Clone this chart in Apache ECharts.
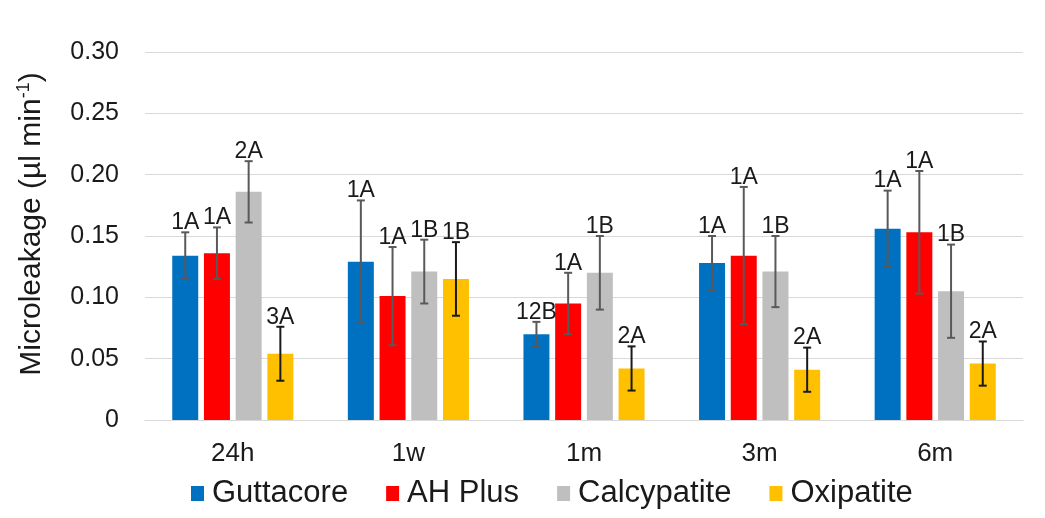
<!DOCTYPE html>
<html>
<head>
<meta charset="utf-8">
<title>Microleakage</title>
<script src="https://cdn.jsdelivr.net/npm/echarts@6/dist/echarts.min.js"></script>
<style>
  html, body { margin: 0; padding: 0; background: #fff; }
  #chart { width: 1045px; height: 518px; }
</style>
</head>
<body>
<div id="chart"></div>
<script>
// 数据
const categories = ['24h', '1w', '1m', '3m', '6m'];
const seriesNames = ['Guttacore', 'AH Plus', 'Calcypatite', 'Oxipatite'];

const guttacore = [0.134, 0.129, 0.070, 0.128, 0.156];
const guttacoreErr = [0.019, 0.050, 0.010, 0.022, 0.031];
const guttacoreLabels = ['1A', '1A', '12B', '1A', '1A'];

const ahPlus = [0.136, 0.101, 0.095, 0.134, 0.153];
const ahPlusErr = [0.021, 0.040, 0.025, 0.056, 0.050];
const ahPlusLabels = ['1A', '1A', '1A', '1A', '1A'];

const calcypatite = [0.186, 0.121, 0.120, 0.121, 0.105];
const calcypatiteErr = [0.025, 0.026, 0.030, 0.029, 0.038];
const calcypatiteLabels = ['2A', '1B', '1B', '1B', '1B'];

const oxipatite = [0.054, 0.115, 0.042, 0.041, 0.046];
const oxipatiteErr = [0.022, 0.030, 0.018, 0.018, 0.018];
const oxipatiteLabels = ['3A', '1B', '2A', '2A', '2A'];

const yTicks = [0, 0.05, 0.10, 0.15, 0.20, 0.25, 0.30];

const values = [guttacore, ahPlus, calcypatite, oxipatite];
const errors = [guttacoreErr, ahPlusErr, calcypatiteErr, oxipatiteErr];
const labels = [guttacoreLabels, ahPlusLabels, calcypatiteLabels, oxipatiteLabels];
const colors = ['#0070c0', '#ff0000', '#bfbfbf', '#ffc000'];
const errColors = ['#595959', '#595959', '#595959', '#1a1a1a'];

const BAR_W = 0.148;   // 柱宽占类目宽度比例
const BAR_GAP = 0.22;  // 柱间距占柱宽比例
const FONT = 'Liberation Sans, Arial, sans-serif';
const TEXT = '#1a1a1a';

const chart = echarts.init(document.getElementById('chart'));

// 误差线 + 字母标注
function errorSeries(idx) {
  return {
    name: 'err' + idx,
    type: 'custom',
    z: 5,
    data: categories.map((c, i) => [i, values[idx][i] - errors[idx][i], values[idx][i] + errors[idx][i], labels[idx][i]]),
    renderItem(params, api) {
      const catW = api.size([1, 0])[0];
      const bw = catW * BAR_W;
      const gap = bw * BAR_GAP;
      const total = 4 * bw + 3 * gap;
      const off = -total / 2 + bw / 2 + idx * (bw + gap);
      const lo = api.coord([api.value(0), api.value(1)]);
      const hi = api.coord([api.value(0), api.value(2)]);
      const x = lo[0] + off;
      const cap = 4;
      const style = { stroke: errColors[idx], lineWidth: 2 };
      return {
        type: 'group',
        children: [
          { type: 'line', shape: { x1: x, y1: lo[1], x2: x, y2: hi[1] }, style },
          { type: 'line', shape: { x1: x - cap, y1: hi[1], x2: x + cap, y2: hi[1] }, style },
          { type: 'line', shape: { x1: x - cap, y1: lo[1], x2: x + cap, y2: lo[1] }, style },
          {
            type: 'text',
            style: {
              text: api.value(3),
              x: x,
              y: hi[1] + 2,
              align: 'center',
              verticalAlign: 'bottom',
              fontSize: 23,
              fontFamily: FONT,
              fill: TEXT
            }
          }
        ]
      };
    }
  };
}

const option = {
  animation: false,
  backgroundColor: '#fff',
  grid: { left: 145, right: 22, top: 52, bottom: 98 },
  legend: {
    data: seriesNames,
    left: 191,
    top: 478,
    padding: 0,
    icon: 'rect',
    itemWidth: 13,
    itemHeight: 15,
    itemGap: 38,
    textStyle: { fontSize: 31, fontFamily: FONT, color: TEXT, padding: [0, 0, 0, 3] }
  },
  xAxis: {
    type: 'category',
    data: categories,
    axisLine: { lineStyle: { color: '#d9d9d9', width: 1 } },
    axisTick: { show: false },
    axisLabel: { fontSize: 26, fontFamily: FONT, color: TEXT, margin: 21 }
  },
  yAxis: {
    type: 'value',
    min: 0,
    max: 0.30,
    interval: 0.05,
    name: '{a|Microleakage (µl min}{s|-1}{a|)}',
    nameLocation: 'middle',
    nameRotate: 90,
    nameGap: 96,
    nameTextStyle: {
      padding: [0, 0, 0, 24],
      rich: {
        a: { fontSize: 30, fontFamily: FONT, color: TEXT, lineHeight: 34 },
        s: { fontSize: 18, fontFamily: FONT, color: TEXT, verticalAlign: 'top', lineHeight: 18, padding: [0, 0, 12, 0] }
      }
    },
    axisLine: { show: false },
    axisTick: { show: false },
    splitLine: { lineStyle: { color: '#d9d9d9', width: 1 } },
    axisLabel: {
      fontSize: 25,
      fontFamily: FONT,
      color: TEXT,
      margin: 26,
      formatter: v => {
        const t = yTicks.find(k => Math.abs(k - v) < 1e-9);
        return t === 0 ? '0' : (t !== undefined ? t.toFixed(2) : '');
      }
    }
  },
  series: [
    ...seriesNames.map((name, idx) => ({
      name,
      type: 'bar',
      data: values[idx],
      barWidth: (BAR_W * 100) + '%',
      barGap: (BAR_GAP * 100) + '%',
      itemStyle: { color: colors[idx] }
    })),
    ...seriesNames.map((_, idx) => errorSeries(idx))
  ]
};

chart.setOption(option);
</script>
</body>
</html>
